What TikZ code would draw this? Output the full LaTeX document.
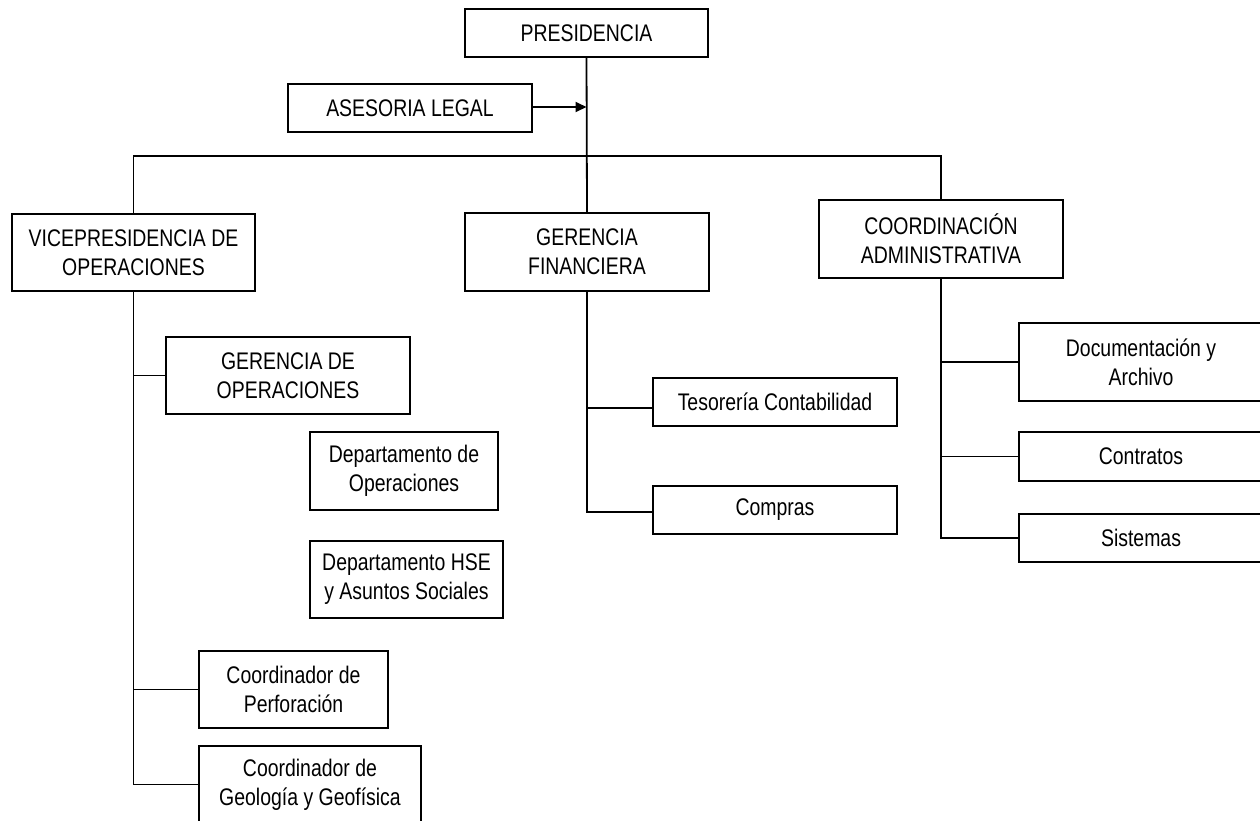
\documentclass[tikz,border=0pt]{standalone}
\usepackage{fontspec}
\setmainfont{Liberation Sans}[FakeStretch=0.81]
\usetikzlibrary{arrows.meta,calc}
\begin{document}
\begin{tikzpicture}[x=1pt,y=-1pt,
  box/.style={draw,line width=1.8pt,inner sep=0pt,align=center,
    font=\fontsize{24}{29}\selectfont},
  conn/.style={line width=1.8pt}]
\path[use as bounding box,clip] (0,0) rectangle (1260,820);
\fill[white] (0,0) rectangle (1260,820);
% nodes
\node[box,minimum width=243pt,minimum height=48pt] (pres) at (586.5,33) {PRESIDENCIA};
\node[box,minimum width=244pt,minimum height=48pt] (ases) at (410,108) {ASESORIA LEGAL};
\node[box,minimum width=243pt,minimum height=77pt] (vice) at (133.5,252.5) {VICEPRESIDENCIA DE\\OPERACIONES};
\node[box,minimum width=244pt,minimum height=78pt] (gfin) at (587,252) {GERENCIA\\FINANCIERA};
\node[box,minimum width=244pt,minimum height=78pt] (coord) at (941,239) {COORDINACIÓN\\ADMINISTRATIVA};
\node[box,minimum width=244pt,minimum height=77pt] (gop) at (288,375.5) {GERENCIA DE\\OPERACIONES};
\node[box,minimum width=188pt,minimum height=78pt] (dop) at (404,471) {Departamento de\\Operaciones};
\node[box,minimum width=193pt,minimum height=77pt] (hse) at (406.5,579.5) {Departamento HSE\\y Asuntos Sociales};
\node[box,minimum width=189pt,minimum height=77pt] (perf) at (293.5,689.5) {Coordinador de\\Perforación};
\node[box,minimum width=222pt,minimum height=77pt] (geo) at (310,784.5) {Coordinador de\\Geología y Geofísica};
\node[box,minimum width=244pt,minimum height=48pt] (tes) at (775,402) {Tesorería Contabilidad};
\node[box,minimum width=244pt,minimum height=48pt] (comp) at (775,510) {Compras};
\node[box,minimum width=244pt,minimum height=78pt] (doc) at (1141,362) {Documentación y\\Archivo};
\node[box,minimum width=244pt,minimum height=49pt] (cont) at (1141,456.5) {Contratos};
\node[box,minimum width=244pt,minimum height=48pt] (sis) at (1141,538) {Sistemas};
% coordinates
\coordinate (bar) at (586.5,156);
\coordinate (arr) at (586.5,107);
% connectors
\draw[conn] (pres.south) -- (gfin.north);
\draw[conn,-{Triangle[length=11pt,width=10pt]}] (ases.east |- arr) -- (arr);
\draw[conn] (vice.north) |- (bar) -| (coord.north);
\draw[conn] (vice.south) |- (geo.west);
\draw[conn] (vice.south |- gop.west) -- (gop.west);
\draw[conn] (vice.south |- perf.west) -- (perf.west);
\draw[conn] (gfin.south) |- ([yshift=-2pt]comp.west);
\draw[conn] (gfin.south |- tes.west) ++(0,6) -- ([yshift=-6pt]tes.west);
\draw[conn] (coord.south) |- (sis.west);
\draw[conn] (coord.south |- doc.west) -- (doc.west);
\draw[conn] (coord.south |- cont.west) -- (cont.west);
\end{tikzpicture}
\end{document}
